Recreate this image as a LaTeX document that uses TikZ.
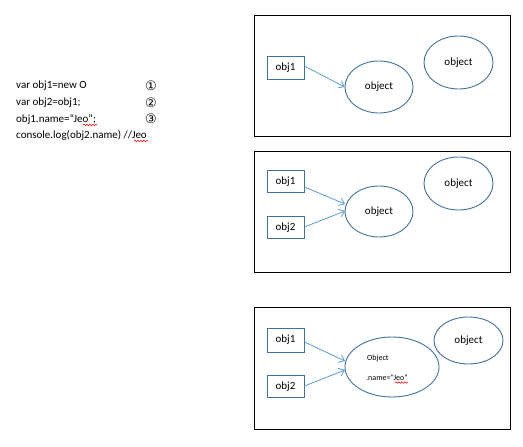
\documentclass[tikz,border=0pt]{standalone}
\usepackage{fontspec}
\setmainfont{Carlito}
\newfontfamily\dvs{DejaVu Sans}
\usetikzlibrary{arrows.meta,decorations.pathmorphing,shapes.geometric}
\definecolor{shapeblue}{HTML}{41719C}
\definecolor{arrowblue}{HTML}{5B9BD5}
\tikzset{
  frame/.style={draw=black,line width=0.9pt},
  varbox/.style={draw=shapeblue,line width=0.9pt,minimum width=37pt,minimum height=22.5pt,inner sep=0pt,font=\fontsize{11}{13}\selectfont},
  objell/.style={draw=shapeblue,line width=0.9pt,ellipse,inner sep=0pt,font=\fontsize{11}{13}\selectfont},
  ptr/.style={draw=arrowblue,line width=0.8pt,-{Straight Barb[length=5pt,width=8pt]}},
  codeline/.style={anchor=west,inner sep=0pt,font=\fontsize{11}{13}\selectfont},
  circnum/.style={inner sep=0pt,font=\dvs\fontsize{13}{14}\selectfont},
  squig/.style={draw=red,line width=0.5pt,decorate,decoration={snake,amplitude=0.8pt,segment length=3pt}}
}
\begin{document}
\begin{tikzpicture}[x=1pt,y=-1pt]
\useasboundingbox (0,0) rectangle (523,447);
% code
\node[codeline] (c1) at (16,86) {var obj1=new O};
\node[codeline] (c2) at (16,102.5) {var obj2=obj1;};
\node[codeline] (c3) at (16,119) {obj1.name=\char"201CJeo\char"201D;};
\node[codeline] (c4) at (16,135) {console.log(obj2.name) //Jeo};
\node[circnum] (n1) at (151,86) {①};
\node[circnum] (n2) at (151,102.5) {②};
\node[circnum] (n3) at (151,119) {③};
\coordinate (s1a) at (83,125); \coordinate (s1b) at (97,125);
\coordinate (s2a) at (134,141); \coordinate (s2b) at (148,141);
\path[squig] (s1a) -- (s1b);
\path[squig] (s2a) -- (s2b);
% panel 1
\node[frame,draw,minimum width=256pt,minimum height=121pt,inner sep=0pt] (f1) at (382,75.5) {};
\node[varbox] (a1) at (285.5,68) {obj1};
\node[objell,minimum width=68pt,minimum height=52pt] (e1) at (379,87) {object};
\node[objell,minimum width=69pt,minimum height=53pt] (e1b) at (458.5,62.5) {object};
\draw[ptr] (a1.east |- 0,66) -- (e1.west);
% panel 2
\node[frame,draw,minimum width=256pt,minimum height=121pt,inner sep=0pt] (f2) at (382,211.5) {};
\node[varbox] (b1) at (285.5,181.5) {obj1};
\node[varbox] (b2) at (285.5,227.5) {obj2};
\node[objell,minimum width=68pt,minimum height=51pt] (e2) at (379,211.5) {object};
\node[objell,minimum width=69pt,minimum height=53pt] (e2b) at (458.5,183.5) {object};
\coordinate (t2a) at (345,204);
\coordinate (t2b) at (345,211);
\draw[ptr] (b1.east |- 0,187) -- (t2a);
\draw[ptr] (b2.east |- 0,227) -- (t2b);
% panel 3
\node[frame,draw,minimum width=256pt,minimum height=122pt,inner sep=0pt] (f3) at (382,368) {};
\node[varbox,minimum height=24pt] (d1) at (285.5,340) {obj1};
\node[varbox] (d2) at (285.5,386.5) {obj2};
\node[objell,minimum width=94pt,minimum height=60pt] (e3) at (392,367) {};
\node[anchor=west,inner sep=0pt,font=\fontsize{8}{9}\selectfont] (o1) at (367,358) {Object};
\node[anchor=west,inner sep=0pt,font=\fontsize{8}{9}\selectfont] (o2) at (366,378) {.name=\char"201CJeo\char"201D};
\coordinate (s3a) at (395,382.5); \coordinate (s3b) at (408,382.5);
\path[squig] (s3a) -- (s3b);
\node[objell,minimum width=69pt,minimum height=47pt] (e3b) at (468.5,340.5) {object};
\coordinate (t3a) at (345,361);
\coordinate (t3b) at (345,370);
\draw[ptr] (d1.east |- 0,342) -- (t3a);
\draw[ptr] (d2.east |- 0,386) -- (t3b);
\end{tikzpicture}
\end{document}
